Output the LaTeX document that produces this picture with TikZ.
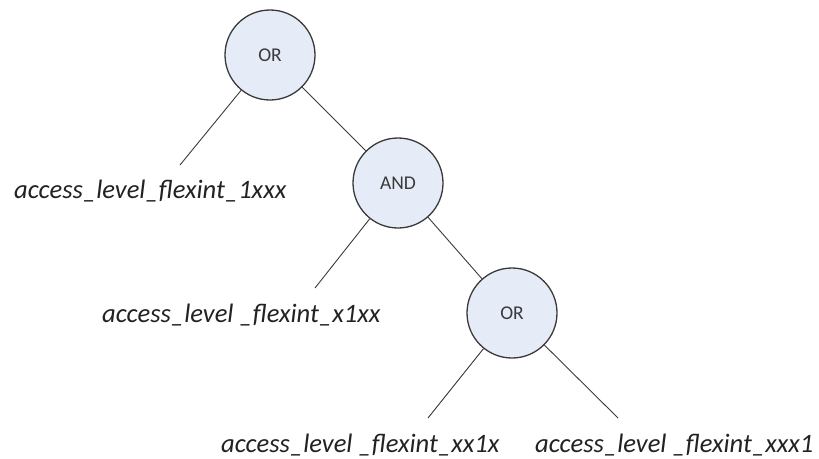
\documentclass[tikz,border=0pt]{standalone}
\usepackage{fontspec}
\setmainfont{Carlito}
\definecolor{gateFill}{HTML}{E6ECF7}
\definecolor{gateLine}{HTML}{3A3A3A}
\definecolor{attrColor}{HTML}{222222}

\begin{document}
\begin{tikzpicture}[x=1pt, y=-1pt,
				gate/.style={draw=gateLine, fill=gateFill, circle, line width=1.3pt, minimum size=90pt, inner sep=0, text=gateLine, font=\fontsize{19.5}{22}\selectfont},
				attr/.style={anchor=base west, inner sep=0, text=attrColor, font=\fontsize{26.6}{30}\selectfont\itshape},
				every edge/.style={draw=gateLine, line width=0.9pt}]
				\useasboundingbox (0, 0) rectangle (819, 458);
				
				\node[gate] (g0) at (270, 55) {OR};
				\node[gate] (g1) at (398, 183) {AND};
				\node[gate] (g2) at (512, 313) {OR};
				
				\node[attr] (a1) at (14, 198) {access\_level\_flexint\_1xxx};
				\node[attr] (a2) at (102, 322) {access\_level \_flexint\_x1xx};
				\node[attr] (a3) at (221, 452) {access\_level \_flexint\_xx1x};
				\node[attr] (a4) at (535, 452) {access\_level \_flexint\_xxx1};
				
				% free ends of the leaf lines, just above the texts
				\coordinate (e1) at (180, 165);
				\coordinate (e2) at (315, 288);
				\coordinate (e3) at (428, 418);
				\coordinate (e4) at (618, 418);
				
				\path (g0) edge (e1);
				\path (g0) edge (g1);
				\path (g1) edge (e2);
				\path (g1) edge (g2);
				\path (g2) edge (e3);
				\path (g2) edge (e4);
			\end{tikzpicture}
\end{document}
